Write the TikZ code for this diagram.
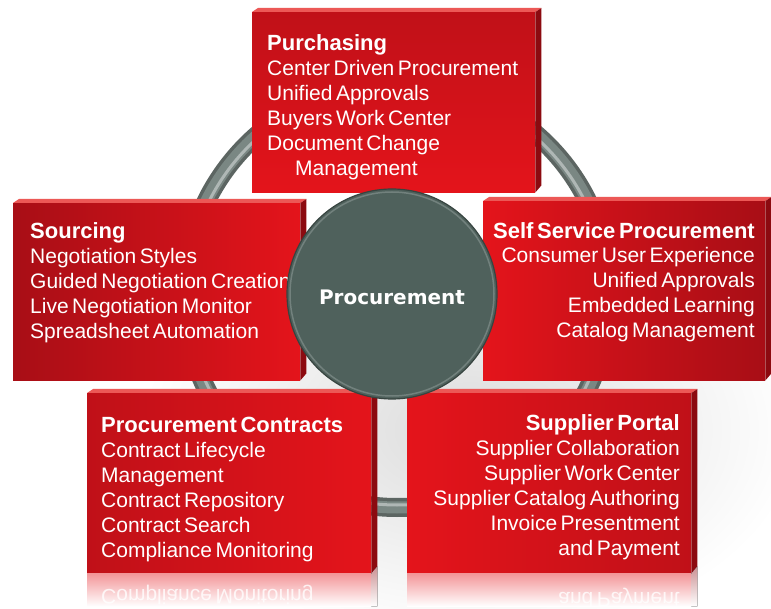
\documentclass[tikz,border=0pt]{standalone}
\usepackage{fontspec,graphicx}
\setmainfont{Liberation Sans}[WordSpace=0.6]
\newfontfamily\hubfont{DejaVu Sans}

\definecolor{boxred}{RGB}{228,20,27}
\definecolor{boxdark}{RGB}{168,14,22}
\definecolor{boxtop}{RGB}{236,88,86}
\definecolor{boxside}{RGB}{140,10,16}
\definecolor{hubgreen}{RGB}{79,97,92}
\definecolor{ringgray}{RGB}{122,135,131}

\begin{document}
\begin{tikzpicture}[x=1pt,y=-1pt]
\tikzstyle{panel}=[anchor=north west, inner sep=0pt, minimum width=284pt, minimum height=180pt]
\tikzstyle{topface}=[fill=boxtop]
\tikzstyle{sideface}=[fill=boxside]
\tikzstyle{lines}=[text=white, inner sep=0pt, font=\fontsize{21}{25}\selectfont]
\tikzstyle{mirror}=[text=white, opacity=0.8, inner sep=0pt, font=\fontsize{21}{25}\selectfont]
\tikzstyle{hub}=[circle, minimum size=210pt, fill=hubgreen, draw=hubgreen!70!black, line width=1.2pt,
  text=white, text height=22pt, text depth=0pt, font=\hubfont\bfseries\fontsize{20}{24}\selectfont]
\newcommand{\hd}[1]{{\bfseries\fontsize{22}{25}\selectfont #1}}

\useasboundingbox (0,0) rectangle (771,609);
\fill[white] (0,0) rectangle (771,609);
\shade[inner color=black!14, outer color=white] (470,430) ellipse (330 and 210);

\coordinate (ringc) at (397,295);
\draw[ringgray!75!black, line width=19pt] (ringc) circle (212.5);
\draw[ringgray, line width=12pt] (ringc) circle (212.5);
\draw[ringgray!60!white, line width=3pt] (ringc) circle (210);

\node[panel, minimum width=283pt, top color=boxdark!60!boxred, bottom color=boxred] (purch) at (252,12) {};
\node[panel, minimum width=287pt, minimum height=177pt, left color=boxdark, right color=boxred] (sourc) at (13,203) {};
\node[panel, minimum width=282pt, minimum height=179pt, left color=boxred, right color=boxdark] (selfs) at (483,201) {};
\node[panel, left color=boxdark!60!boxred, right color=boxred] (contr) at (87,393) {};
\node[panel, left color=boxred, right color=boxdark!60!boxred] (suppl) at (407,393) {};

\foreach \b in {purch,sourc,selfs,contr,suppl}{
  \fill[topface] (\b.north west) -- ++(6,-4) -- ([shift={(6,-4)}]\b.north east) -- (\b.north east) -- cycle;
  \fill[sideface] (\b.north east) -- ++(6,-4) -- ([shift={(6,-7)}]\b.south east) -- (\b.south east) -- cycle;
}

\foreach \b in {contr,suppl}{
  \fill[top color=boxred!45!white, bottom color=white] (\b.south west) rectangle ([shift={(0,33)}]\b.south east);
  \fill[top color=boxside!45!white, bottom color=white] (\b.south east) -- ++(6,-7) -- ++(0,40) -- ++(-6,0) -- cycle;
}

\node[lines, anchor=base west, align=left] (purcht) at (267,176)
  {\hd{Purchasing}\\Center Driven Procurement\\Unified Approvals\\Buyers Work Center\\Document Change\\\hspace{28pt}Management};
\node[lines, anchor=base west, align=left] (sourct) at (30,339)
  {\hd{Sourcing}\\Negotiation Styles\\Guided Negotiation Creation\\Live Negotiation Monitor\\Spreadsheet Automation};
\node[lines, anchor=base east, align=right] (selfst) at (755,338)
  {\hd{Self Service Procurement}\\Consumer User Experience\\Unified Approvals\\Embedded Learning\\Catalog Management};
\node[lines, anchor=base west, align=left] (contrt) at (101,557)
  {\hd{Procurement Contracts}\\Contract Lifecycle\\Management\\Contract Repository\\Contract Search\\Compliance Monitoring};
\node[lines, anchor=base east, align=right] (supplt) at (680,555)
  {\hd{Supplier Portal}\\Supplier Collaboration\\Supplier Work Center\\Supplier Catalog Authoring\\Invoice Presentment\\and Payment};

\node[mirror, anchor=base west] (contrm) at (101,589) {\scalebox{1}[-1]{Compliance Monitoring}};
\node[mirror, anchor=base east] (supplm) at (680,592) {\scalebox{1}[-1]{and Payment}};

\node[hub] (hub) at (392,294) {Procurement};
\draw[hubgreen!80!white, line width=1.5pt] (hub.center) circle (102);
\end{tikzpicture}
\end{document}
